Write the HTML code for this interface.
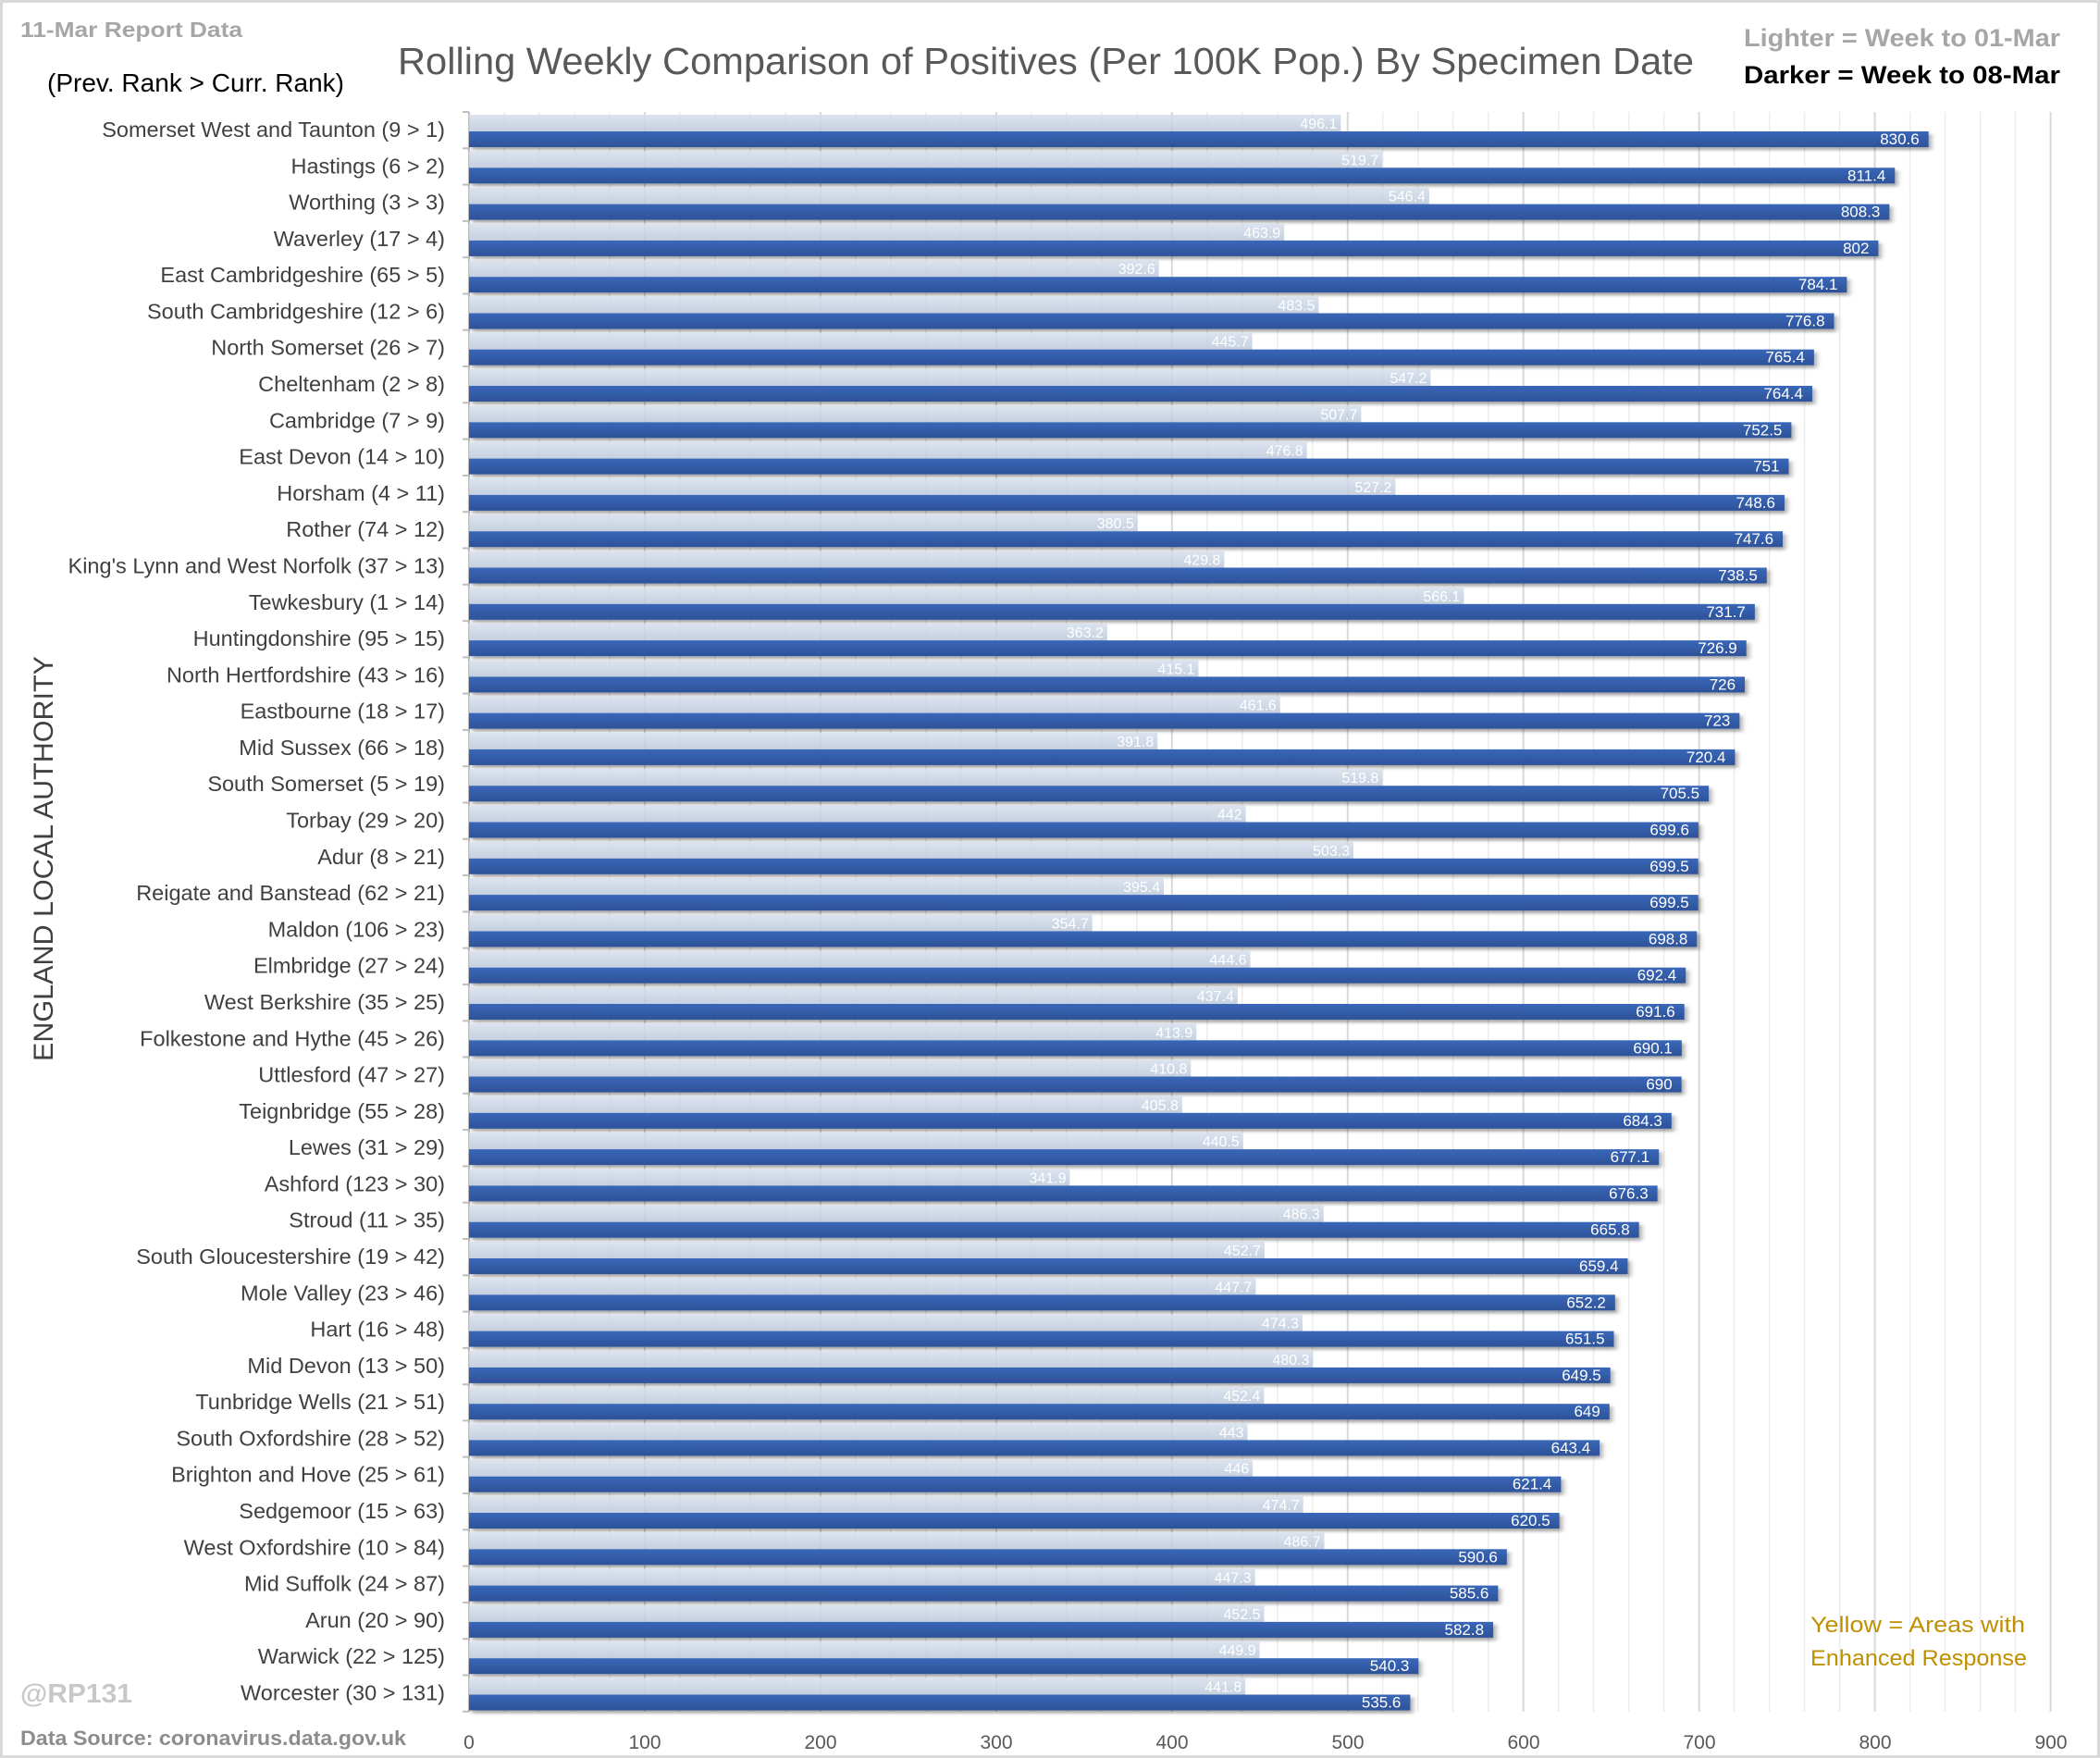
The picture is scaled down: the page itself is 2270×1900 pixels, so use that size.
<!DOCTYPE html>
<html><head><meta charset="utf-8"><style>
html,body{margin:0;padding:0;background:#fff}
svg{display:block}
.c{font-family:"Liberation Sans",sans-serif;font-size:23.5px;fill:#404040;text-anchor:end}
.lv{font-family:"Liberation Sans",sans-serif;font-size:16px;fill:#fff;text-anchor:end}
.dv{font-family:"Liberation Sans",sans-serif;font-size:17px;fill:#fff;text-anchor:end}
.l{fill:url(#lg)}
.d{fill:url(#dg);filter:url(#sh)}
.x{font-family:"Liberation Sans",sans-serif;font-size:21px;fill:#595959;text-anchor:middle}
</style></head><body>
<svg width="2270" height="1900" viewBox="0 0 2270 1900" xmlns="http://www.w3.org/2000/svg">
<defs>
<linearGradient id="lg" x1="0" y1="0" x2="0" y2="1"><stop offset="0" stop-color="#d6dfec" stop-opacity=".85"/><stop offset="1" stop-color="#bcc8da" stop-opacity=".85"/></linearGradient>
<linearGradient id="dg" x1="0" y1="0" x2="0" y2="1"><stop offset="0" stop-color="#3a67b8"/><stop offset="1" stop-color="#2d5299"/></linearGradient>
<filter id="sh" x="-5%" y="-50%" width="110%" height="250%"><feDropShadow dx="1.5" dy="3" stdDeviation="1.5" flood-color="#000" flood-opacity=".35"/></filter>
</defs>
<rect x="1.5" y="1.5" width="2267" height="1897" fill="#fff" stroke="#d9d9d9" stroke-width="3"/>
<g transform="translate(507,0) scale(1.8995,1)">
<g stroke="#ececec" stroke-width="1.5" vector-effect="non-scaling-stroke">
<path vector-effect="non-scaling-stroke" d="M20 121V1850M40 121V1850M60 121V1850M80 121V1850M120 121V1850M140 121V1850M160 121V1850M180 121V1850M220 121V1850M240 121V1850M260 121V1850M280 121V1850M320 121V1850M340 121V1850M360 121V1850M380 121V1850M420 121V1850M440 121V1850M460 121V1850M480 121V1850M520 121V1850M540 121V1850M560 121V1850M580 121V1850M620 121V1850M640 121V1850M660 121V1850M680 121V1850M720 121V1850M740 121V1850M760 121V1850M780 121V1850M820 121V1850M840 121V1850M860 121V1850M880 121V1850"/>
</g>
<path vector-effect="non-scaling-stroke" stroke="#d9d9d9" stroke-width="2" d="M100 121V1850M200 121V1850M300 121V1850M400 121V1850M500 121V1850M600 121V1850M700 121V1850M800 121V1850M900 121V1850"/>
</g>
<line x1="507" y1="121" x2="507" y2="1850" stroke="#bfbfbf" stroke-width="2"/>

<text x="22" y="40" style="font-family:'Liberation Sans',sans-serif;font-weight:bold;font-size:23px;fill:#a6a6a6" textLength="240" lengthAdjust="spacingAndGlyphs">11-Mar Report Data</text>
<text x="51" y="99" style="font-family:'Liberation Sans',sans-serif;font-size:28px;fill:#000" textLength="321" lengthAdjust="spacingAndGlyphs">(Prev. Rank &gt; Curr. Rank)</text>
<text x="430" y="80" style="font-family:'Liberation Sans',sans-serif;font-size:41px;fill:#595959" textLength="1401" lengthAdjust="spacingAndGlyphs">Rolling Weekly Comparison of Positives  (Per 100K Pop.) By Specimen Date</text>
<text x="1885" y="50" style="font-family:'Liberation Sans',sans-serif;font-weight:bold;font-size:27px;fill:#a6a6a6" textLength="342" lengthAdjust="spacingAndGlyphs">Lighter =  Week to 01-Mar</text>
<text x="1885" y="90" style="font-family:'Liberation Sans',sans-serif;font-weight:bold;font-size:27px;fill:#000" textLength="342" lengthAdjust="spacingAndGlyphs">Darker =  Week to 08-Mar</text>
<text transform="translate(57,928) rotate(-90)" text-anchor="middle" style="font-family:'Liberation Sans',sans-serif;font-size:30px;fill:#404040" textLength="438" lengthAdjust="spacingAndGlyphs">ENGLAND LOCAL AUTHORITY</text>
<text x="22" y="1840" style="font-family:'Liberation Sans',sans-serif;font-weight:bold;font-size:29px;fill:#c8c8c8" textLength="121" lengthAdjust="spacingAndGlyphs">@RP131</text>
<text x="22" y="1886" style="font-family:'Liberation Sans',sans-serif;font-weight:bold;font-size:22px;fill:#8c8c8c" textLength="417" lengthAdjust="spacingAndGlyphs">Data Source: coronavirus.data.gov.uk</text>
<text x="1957" y="1764" style="font-family:'Liberation Sans',sans-serif;font-size:24px;fill:#bf9000" textLength="232" lengthAdjust="spacingAndGlyphs">Yellow = Areas with</text>
<text x="1957" y="1800" style="font-family:'Liberation Sans',sans-serif;font-size:24px;fill:#bf9000" textLength="234" lengthAdjust="spacingAndGlyphs">Enhanced  Response</text>

<g>
<text class="x" x="507" y="1890">0</text><text class="x" x="697" y="1890">100</text><text class="x" x="887" y="1890">200</text><text class="x" x="1077" y="1890">300</text><text class="x" x="1267" y="1890">400</text><text class="x" x="1457" y="1890">500</text><text class="x" x="1647" y="1890">600</text><text class="x" x="1837" y="1890">700</text><text class="x" x="2027" y="1890">800</text><text class="x" x="2217" y="1890">900</text>
</g>

<g stroke="#bfbfbf" stroke-width="2">
<line x1="500" y1="121" x2="507" y2="121"/><line x1="500" y1="160.3" x2="507" y2="160.3"/><line x1="500" y1="199.6" x2="507" y2="199.6"/><line x1="500" y1="238.9" x2="507" y2="238.9"/><line x1="500" y1="278.2" x2="507" y2="278.2"/><line x1="500" y1="317.5" x2="507" y2="317.5"/><line x1="500" y1="356.7" x2="507" y2="356.7"/><line x1="500" y1="396" x2="507" y2="396"/><line x1="500" y1="435.3" x2="507" y2="435.3"/><line x1="500" y1="474.6" x2="507" y2="474.6"/><line x1="500" y1="513.9" x2="507" y2="513.9"/><line x1="500" y1="553.2" x2="507" y2="553.2"/><line x1="500" y1="592.5" x2="507" y2="592.5"/><line x1="500" y1="631.8" x2="507" y2="631.8"/><line x1="500" y1="671.1" x2="507" y2="671.1"/><line x1="500" y1="710.4" x2="507" y2="710.4"/><line x1="500" y1="749.6" x2="507" y2="749.6"/><line x1="500" y1="788.9" x2="507" y2="788.9"/><line x1="500" y1="828.2" x2="507" y2="828.2"/><line x1="500" y1="867.5" x2="507" y2="867.5"/><line x1="500" y1="906.8" x2="507" y2="906.8"/><line x1="500" y1="946.1" x2="507" y2="946.1"/><line x1="500" y1="985.4" x2="507" y2="985.4"/><line x1="500" y1="1024.7" x2="507" y2="1024.7"/><line x1="500" y1="1064" x2="507" y2="1064"/><line x1="500" y1="1103.3" x2="507" y2="1103.3"/><line x1="500" y1="1142.5" x2="507" y2="1142.5"/><line x1="500" y1="1181.8" x2="507" y2="1181.8"/><line x1="500" y1="1221.1" x2="507" y2="1221.1"/><line x1="500" y1="1260.4" x2="507" y2="1260.4"/><line x1="500" y1="1299.7" x2="507" y2="1299.7"/><line x1="500" y1="1339" x2="507" y2="1339"/><line x1="500" y1="1378.3" x2="507" y2="1378.3"/><line x1="500" y1="1417.6" x2="507" y2="1417.6"/><line x1="500" y1="1456.9" x2="507" y2="1456.9"/><line x1="500" y1="1496.2" x2="507" y2="1496.2"/><line x1="500" y1="1535.4" x2="507" y2="1535.4"/><line x1="500" y1="1574.7" x2="507" y2="1574.7"/><line x1="500" y1="1614" x2="507" y2="1614"/><line x1="500" y1="1653.3" x2="507" y2="1653.3"/><line x1="500" y1="1692.6" x2="507" y2="1692.6"/><line x1="500" y1="1731.9" x2="507" y2="1731.9"/><line x1="500" y1="1771.2" x2="507" y2="1771.2"/><line x1="500" y1="1810.5" x2="507" y2="1810.5"/><line x1="500" y1="1849.8" x2="507" y2="1849.8"/>
</g>

<g transform="translate(0,121)"><text class="c" x="481" y="27">Somerset West and Taunton (9 &gt; 1)</text><g transform="translate(507,0) scale(1.8995,1)"><rect class="l" y="3" height="18" width="496.1"/><rect class="d" y="21" height="17" width="830.6"/><text class="lv" transform="translate(496.1,18) scale(.52645,1)" x="-4">496.1</text><text class="dv" transform="translate(830.6,35) scale(.52645,1)" x="-10">830.6</text></g></g>
<g transform="translate(0,160.3)"><text class="c" x="481" y="27">Hastings (6 &gt; 2)</text><g transform="translate(507,0) scale(1.8995,1)"><rect class="l" y="3" height="18" width="519.7"/><rect class="d" y="21" height="17" width="811.4"/><text class="lv" transform="translate(519.7,18) scale(.52645,1)" x="-4">519.7</text><text class="dv" transform="translate(811.4,35) scale(.52645,1)" x="-10">811.4</text></g></g>
<g transform="translate(0,199.6)"><text class="c" x="481" y="27">Worthing (3 &gt; 3)</text><g transform="translate(507,0) scale(1.8995,1)"><rect class="l" y="3" height="18" width="546.4"/><rect class="d" y="21" height="17" width="808.3"/><text class="lv" transform="translate(546.4,18) scale(.52645,1)" x="-4">546.4</text><text class="dv" transform="translate(808.3,35) scale(.52645,1)" x="-10">808.3</text></g></g>
<g transform="translate(0,238.9)"><text class="c" x="481" y="27">Waverley (17 &gt; 4)</text><g transform="translate(507,0) scale(1.8995,1)"><rect class="l" y="3" height="18" width="463.9"/><rect class="d" y="21" height="17" width="802"/><text class="lv" transform="translate(463.9,18) scale(.52645,1)" x="-4">463.9</text><text class="dv" transform="translate(802,35) scale(.52645,1)" x="-10">802</text></g></g>
<g transform="translate(0,278.2)"><text class="c" x="481" y="27">East Cambridgeshire (65 &gt; 5)</text><g transform="translate(507,0) scale(1.8995,1)"><rect class="l" y="3" height="18" width="392.6"/><rect class="d" y="21" height="17" width="784.1"/><text class="lv" transform="translate(392.6,18) scale(.52645,1)" x="-4">392.6</text><text class="dv" transform="translate(784.1,35) scale(.52645,1)" x="-10">784.1</text></g></g>
<g transform="translate(0,317.5)"><text class="c" x="481" y="27">South Cambridgeshire (12 &gt; 6)</text><g transform="translate(507,0) scale(1.8995,1)"><rect class="l" y="3" height="18" width="483.5"/><rect class="d" y="21" height="17" width="776.8"/><text class="lv" transform="translate(483.5,18) scale(.52645,1)" x="-4">483.5</text><text class="dv" transform="translate(776.8,35) scale(.52645,1)" x="-10">776.8</text></g></g>
<g transform="translate(0,356.7)"><text class="c" x="481" y="27">North Somerset (26 &gt; 7)</text><g transform="translate(507,0) scale(1.8995,1)"><rect class="l" y="3" height="18" width="445.7"/><rect class="d" y="21" height="17" width="765.4"/><text class="lv" transform="translate(445.7,18) scale(.52645,1)" x="-4">445.7</text><text class="dv" transform="translate(765.4,35) scale(.52645,1)" x="-10">765.4</text></g></g>
<g transform="translate(0,396)"><text class="c" x="481" y="27">Cheltenham (2 &gt; 8)</text><g transform="translate(507,0) scale(1.8995,1)"><rect class="l" y="3" height="18" width="547.2"/><rect class="d" y="21" height="17" width="764.4"/><text class="lv" transform="translate(547.2,18) scale(.52645,1)" x="-4">547.2</text><text class="dv" transform="translate(764.4,35) scale(.52645,1)" x="-10">764.4</text></g></g>
<g transform="translate(0,435.3)"><text class="c" x="481" y="27">Cambridge (7 &gt; 9)</text><g transform="translate(507,0) scale(1.8995,1)"><rect class="l" y="3" height="18" width="507.7"/><rect class="d" y="21" height="17" width="752.5"/><text class="lv" transform="translate(507.7,18) scale(.52645,1)" x="-4">507.7</text><text class="dv" transform="translate(752.5,35) scale(.52645,1)" x="-10">752.5</text></g></g>
<g transform="translate(0,474.6)"><text class="c" x="481" y="27">East Devon (14 &gt; 10)</text><g transform="translate(507,0) scale(1.8995,1)"><rect class="l" y="3" height="18" width="476.8"/><rect class="d" y="21" height="17" width="751"/><text class="lv" transform="translate(476.8,18) scale(.52645,1)" x="-4">476.8</text><text class="dv" transform="translate(751,35) scale(.52645,1)" x="-10">751</text></g></g>
<g transform="translate(0,513.9)"><text class="c" x="481" y="27">Horsham (4 &gt; 11)</text><g transform="translate(507,0) scale(1.8995,1)"><rect class="l" y="3" height="18" width="527.2"/><rect class="d" y="21" height="17" width="748.6"/><text class="lv" transform="translate(527.2,18) scale(.52645,1)" x="-4">527.2</text><text class="dv" transform="translate(748.6,35) scale(.52645,1)" x="-10">748.6</text></g></g>
<g transform="translate(0,553.2)"><text class="c" x="481" y="27">Rother (74 &gt; 12)</text><g transform="translate(507,0) scale(1.8995,1)"><rect class="l" y="3" height="18" width="380.5"/><rect class="d" y="21" height="17" width="747.6"/><text class="lv" transform="translate(380.5,18) scale(.52645,1)" x="-4">380.5</text><text class="dv" transform="translate(747.6,35) scale(.52645,1)" x="-10">747.6</text></g></g>
<g transform="translate(0,592.5)"><text class="c" x="481" y="27">King's Lynn and West Norfolk (37 &gt; 13)</text><g transform="translate(507,0) scale(1.8995,1)"><rect class="l" y="3" height="18" width="429.8"/><rect class="d" y="21" height="17" width="738.5"/><text class="lv" transform="translate(429.8,18) scale(.52645,1)" x="-4">429.8</text><text class="dv" transform="translate(738.5,35) scale(.52645,1)" x="-10">738.5</text></g></g>
<g transform="translate(0,631.8)"><text class="c" x="481" y="27">Tewkesbury (1 &gt; 14)</text><g transform="translate(507,0) scale(1.8995,1)"><rect class="l" y="3" height="18" width="566.1"/><rect class="d" y="21" height="17" width="731.7"/><text class="lv" transform="translate(566.1,18) scale(.52645,1)" x="-4">566.1</text><text class="dv" transform="translate(731.7,35) scale(.52645,1)" x="-10">731.7</text></g></g>
<g transform="translate(0,671.1)"><text class="c" x="481" y="27">Huntingdonshire (95 &gt; 15)</text><g transform="translate(507,0) scale(1.8995,1)"><rect class="l" y="3" height="18" width="363.2"/><rect class="d" y="21" height="17" width="726.9"/><text class="lv" transform="translate(363.2,18) scale(.52645,1)" x="-4">363.2</text><text class="dv" transform="translate(726.9,35) scale(.52645,1)" x="-10">726.9</text></g></g>
<g transform="translate(0,710.4)"><text class="c" x="481" y="27">North Hertfordshire (43 &gt; 16)</text><g transform="translate(507,0) scale(1.8995,1)"><rect class="l" y="3" height="18" width="415.1"/><rect class="d" y="21" height="17" width="726"/><text class="lv" transform="translate(415.1,18) scale(.52645,1)" x="-4">415.1</text><text class="dv" transform="translate(726,35) scale(.52645,1)" x="-10">726</text></g></g>
<g transform="translate(0,749.6)"><text class="c" x="481" y="27">Eastbourne (18 &gt; 17)</text><g transform="translate(507,0) scale(1.8995,1)"><rect class="l" y="3" height="18" width="461.6"/><rect class="d" y="21" height="17" width="723"/><text class="lv" transform="translate(461.6,18) scale(.52645,1)" x="-4">461.6</text><text class="dv" transform="translate(723,35) scale(.52645,1)" x="-10">723</text></g></g>
<g transform="translate(0,788.9)"><text class="c" x="481" y="27">Mid Sussex (66 &gt; 18)</text><g transform="translate(507,0) scale(1.8995,1)"><rect class="l" y="3" height="18" width="391.8"/><rect class="d" y="21" height="17" width="720.4"/><text class="lv" transform="translate(391.8,18) scale(.52645,1)" x="-4">391.8</text><text class="dv" transform="translate(720.4,35) scale(.52645,1)" x="-10">720.4</text></g></g>
<g transform="translate(0,828.2)"><text class="c" x="481" y="27">South Somerset (5 &gt; 19)</text><g transform="translate(507,0) scale(1.8995,1)"><rect class="l" y="3" height="18" width="519.8"/><rect class="d" y="21" height="17" width="705.5"/><text class="lv" transform="translate(519.8,18) scale(.52645,1)" x="-4">519.8</text><text class="dv" transform="translate(705.5,35) scale(.52645,1)" x="-10">705.5</text></g></g>
<g transform="translate(0,867.5)"><text class="c" x="481" y="27">Torbay (29 &gt; 20)</text><g transform="translate(507,0) scale(1.8995,1)"><rect class="l" y="3" height="18" width="442"/><rect class="d" y="21" height="17" width="699.6"/><text class="lv" transform="translate(442,18) scale(.52645,1)" x="-4">442</text><text class="dv" transform="translate(699.6,35) scale(.52645,1)" x="-10">699.6</text></g></g>
<g transform="translate(0,906.8)"><text class="c" x="481" y="27">Adur (8 &gt; 21)</text><g transform="translate(507,0) scale(1.8995,1)"><rect class="l" y="3" height="18" width="503.3"/><rect class="d" y="21" height="17" width="699.5"/><text class="lv" transform="translate(503.3,18) scale(.52645,1)" x="-4">503.3</text><text class="dv" transform="translate(699.5,35) scale(.52645,1)" x="-10">699.5</text></g></g>
<g transform="translate(0,946.1)"><text class="c" x="481" y="27">Reigate and Banstead (62 &gt; 21)</text><g transform="translate(507,0) scale(1.8995,1)"><rect class="l" y="3" height="18" width="395.4"/><rect class="d" y="21" height="17" width="699.5"/><text class="lv" transform="translate(395.4,18) scale(.52645,1)" x="-4">395.4</text><text class="dv" transform="translate(699.5,35) scale(.52645,1)" x="-10">699.5</text></g></g>
<g transform="translate(0,985.4)"><text class="c" x="481" y="27">Maldon (106 &gt; 23)</text><g transform="translate(507,0) scale(1.8995,1)"><rect class="l" y="3" height="18" width="354.7"/><rect class="d" y="21" height="17" width="698.8"/><text class="lv" transform="translate(354.7,18) scale(.52645,1)" x="-4">354.7</text><text class="dv" transform="translate(698.8,35) scale(.52645,1)" x="-10">698.8</text></g></g>
<g transform="translate(0,1024.7)"><text class="c" x="481" y="27">Elmbridge (27 &gt; 24)</text><g transform="translate(507,0) scale(1.8995,1)"><rect class="l" y="3" height="18" width="444.6"/><rect class="d" y="21" height="17" width="692.4"/><text class="lv" transform="translate(444.6,18) scale(.52645,1)" x="-4">444.6</text><text class="dv" transform="translate(692.4,35) scale(.52645,1)" x="-10">692.4</text></g></g>
<g transform="translate(0,1064)"><text class="c" x="481" y="27">West Berkshire (35 &gt; 25)</text><g transform="translate(507,0) scale(1.8995,1)"><rect class="l" y="3" height="18" width="437.4"/><rect class="d" y="21" height="17" width="691.6"/><text class="lv" transform="translate(437.4,18) scale(.52645,1)" x="-4">437.4</text><text class="dv" transform="translate(691.6,35) scale(.52645,1)" x="-10">691.6</text></g></g>
<g transform="translate(0,1103.3)"><text class="c" x="481" y="27">Folkestone and Hythe (45 &gt; 26)</text><g transform="translate(507,0) scale(1.8995,1)"><rect class="l" y="3" height="18" width="413.9"/><rect class="d" y="21" height="17" width="690.1"/><text class="lv" transform="translate(413.9,18) scale(.52645,1)" x="-4">413.9</text><text class="dv" transform="translate(690.1,35) scale(.52645,1)" x="-10">690.1</text></g></g>
<g transform="translate(0,1142.5)"><text class="c" x="481" y="27">Uttlesford (47 &gt; 27)</text><g transform="translate(507,0) scale(1.8995,1)"><rect class="l" y="3" height="18" width="410.8"/><rect class="d" y="21" height="17" width="690"/><text class="lv" transform="translate(410.8,18) scale(.52645,1)" x="-4">410.8</text><text class="dv" transform="translate(690,35) scale(.52645,1)" x="-10">690</text></g></g>
<g transform="translate(0,1181.8)"><text class="c" x="481" y="27">Teignbridge (55 &gt; 28)</text><g transform="translate(507,0) scale(1.8995,1)"><rect class="l" y="3" height="18" width="405.8"/><rect class="d" y="21" height="17" width="684.3"/><text class="lv" transform="translate(405.8,18) scale(.52645,1)" x="-4">405.8</text><text class="dv" transform="translate(684.3,35) scale(.52645,1)" x="-10">684.3</text></g></g>
<g transform="translate(0,1221.1)"><text class="c" x="481" y="27">Lewes (31 &gt; 29)</text><g transform="translate(507,0) scale(1.8995,1)"><rect class="l" y="3" height="18" width="440.5"/><rect class="d" y="21" height="17" width="677.1"/><text class="lv" transform="translate(440.5,18) scale(.52645,1)" x="-4">440.5</text><text class="dv" transform="translate(677.1,35) scale(.52645,1)" x="-10">677.1</text></g></g>
<g transform="translate(0,1260.4)"><text class="c" x="481" y="27">Ashford (123 &gt; 30)</text><g transform="translate(507,0) scale(1.8995,1)"><rect class="l" y="3" height="18" width="341.9"/><rect class="d" y="21" height="17" width="676.3"/><text class="lv" transform="translate(341.9,18) scale(.52645,1)" x="-4">341.9</text><text class="dv" transform="translate(676.3,35) scale(.52645,1)" x="-10">676.3</text></g></g>
<g transform="translate(0,1299.7)"><text class="c" x="481" y="27">Stroud (11 &gt; 35)</text><g transform="translate(507,0) scale(1.8995,1)"><rect class="l" y="3" height="18" width="486.3"/><rect class="d" y="21" height="17" width="665.8"/><text class="lv" transform="translate(486.3,18) scale(.52645,1)" x="-4">486.3</text><text class="dv" transform="translate(665.8,35) scale(.52645,1)" x="-10">665.8</text></g></g>
<g transform="translate(0,1339)"><text class="c" x="481" y="27">South Gloucestershire (19 &gt; 42)</text><g transform="translate(507,0) scale(1.8995,1)"><rect class="l" y="3" height="18" width="452.7"/><rect class="d" y="21" height="17" width="659.4"/><text class="lv" transform="translate(452.7,18) scale(.52645,1)" x="-4">452.7</text><text class="dv" transform="translate(659.4,35) scale(.52645,1)" x="-10">659.4</text></g></g>
<g transform="translate(0,1378.3)"><text class="c" x="481" y="27">Mole Valley (23 &gt; 46)</text><g transform="translate(507,0) scale(1.8995,1)"><rect class="l" y="3" height="18" width="447.7"/><rect class="d" y="21" height="17" width="652.2"/><text class="lv" transform="translate(447.7,18) scale(.52645,1)" x="-4">447.7</text><text class="dv" transform="translate(652.2,35) scale(.52645,1)" x="-10">652.2</text></g></g>
<g transform="translate(0,1417.6)"><text class="c" x="481" y="27">Hart (16 &gt; 48)</text><g transform="translate(507,0) scale(1.8995,1)"><rect class="l" y="3" height="18" width="474.3"/><rect class="d" y="21" height="17" width="651.5"/><text class="lv" transform="translate(474.3,18) scale(.52645,1)" x="-4">474.3</text><text class="dv" transform="translate(651.5,35) scale(.52645,1)" x="-10">651.5</text></g></g>
<g transform="translate(0,1456.9)"><text class="c" x="481" y="27">Mid Devon (13 &gt; 50)</text><g transform="translate(507,0) scale(1.8995,1)"><rect class="l" y="3" height="18" width="480.3"/><rect class="d" y="21" height="17" width="649.5"/><text class="lv" transform="translate(480.3,18) scale(.52645,1)" x="-4">480.3</text><text class="dv" transform="translate(649.5,35) scale(.52645,1)" x="-10">649.5</text></g></g>
<g transform="translate(0,1496.2)"><text class="c" x="481" y="27">Tunbridge Wells (21 &gt; 51)</text><g transform="translate(507,0) scale(1.8995,1)"><rect class="l" y="3" height="18" width="452.4"/><rect class="d" y="21" height="17" width="649"/><text class="lv" transform="translate(452.4,18) scale(.52645,1)" x="-4">452.4</text><text class="dv" transform="translate(649,35) scale(.52645,1)" x="-10">649</text></g></g>
<g transform="translate(0,1535.4)"><text class="c" x="481" y="27">South Oxfordshire (28 &gt; 52)</text><g transform="translate(507,0) scale(1.8995,1)"><rect class="l" y="3" height="18" width="443"/><rect class="d" y="21" height="17" width="643.4"/><text class="lv" transform="translate(443,18) scale(.52645,1)" x="-4">443</text><text class="dv" transform="translate(643.4,35) scale(.52645,1)" x="-10">643.4</text></g></g>
<g transform="translate(0,1574.7)"><text class="c" x="481" y="27">Brighton and Hove (25 &gt; 61)</text><g transform="translate(507,0) scale(1.8995,1)"><rect class="l" y="3" height="18" width="446"/><rect class="d" y="21" height="17" width="621.4"/><text class="lv" transform="translate(446,18) scale(.52645,1)" x="-4">446</text><text class="dv" transform="translate(621.4,35) scale(.52645,1)" x="-10">621.4</text></g></g>
<g transform="translate(0,1614)"><text class="c" x="481" y="27">Sedgemoor (15 &gt; 63)</text><g transform="translate(507,0) scale(1.8995,1)"><rect class="l" y="3" height="18" width="474.7"/><rect class="d" y="21" height="17" width="620.5"/><text class="lv" transform="translate(474.7,18) scale(.52645,1)" x="-4">474.7</text><text class="dv" transform="translate(620.5,35) scale(.52645,1)" x="-10">620.5</text></g></g>
<g transform="translate(0,1653.3)"><text class="c" x="481" y="27">West Oxfordshire (10 &gt; 84)</text><g transform="translate(507,0) scale(1.8995,1)"><rect class="l" y="3" height="18" width="486.7"/><rect class="d" y="21" height="17" width="590.6"/><text class="lv" transform="translate(486.7,18) scale(.52645,1)" x="-4">486.7</text><text class="dv" transform="translate(590.6,35) scale(.52645,1)" x="-10">590.6</text></g></g>
<g transform="translate(0,1692.6)"><text class="c" x="481" y="27">Mid Suffolk (24 &gt; 87)</text><g transform="translate(507,0) scale(1.8995,1)"><rect class="l" y="3" height="18" width="447.3"/><rect class="d" y="21" height="17" width="585.6"/><text class="lv" transform="translate(447.3,18) scale(.52645,1)" x="-4">447.3</text><text class="dv" transform="translate(585.6,35) scale(.52645,1)" x="-10">585.6</text></g></g>
<g transform="translate(0,1731.9)"><text class="c" x="481" y="27">Arun (20 &gt; 90)</text><g transform="translate(507,0) scale(1.8995,1)"><rect class="l" y="3" height="18" width="452.5"/><rect class="d" y="21" height="17" width="582.8"/><text class="lv" transform="translate(452.5,18) scale(.52645,1)" x="-4">452.5</text><text class="dv" transform="translate(582.8,35) scale(.52645,1)" x="-10">582.8</text></g></g>
<g transform="translate(0,1771.2)"><text class="c" x="481" y="27">Warwick (22 &gt; 125)</text><g transform="translate(507,0) scale(1.8995,1)"><rect class="l" y="3" height="18" width="449.9"/><rect class="d" y="21" height="17" width="540.3"/><text class="lv" transform="translate(449.9,18) scale(.52645,1)" x="-4">449.9</text><text class="dv" transform="translate(540.3,35) scale(.52645,1)" x="-10">540.3</text></g></g>
<g transform="translate(0,1810.5)"><text class="c" x="481" y="27">Worcester (30 &gt; 131)</text><g transform="translate(507,0) scale(1.8995,1)"><rect class="l" y="3" height="18" width="441.8"/><rect class="d" y="21" height="17" width="535.6"/><text class="lv" transform="translate(441.8,18) scale(.52645,1)" x="-4">441.8</text><text class="dv" transform="translate(535.6,35) scale(.52645,1)" x="-10">535.6</text></g></g>
</svg>
</body></html>
